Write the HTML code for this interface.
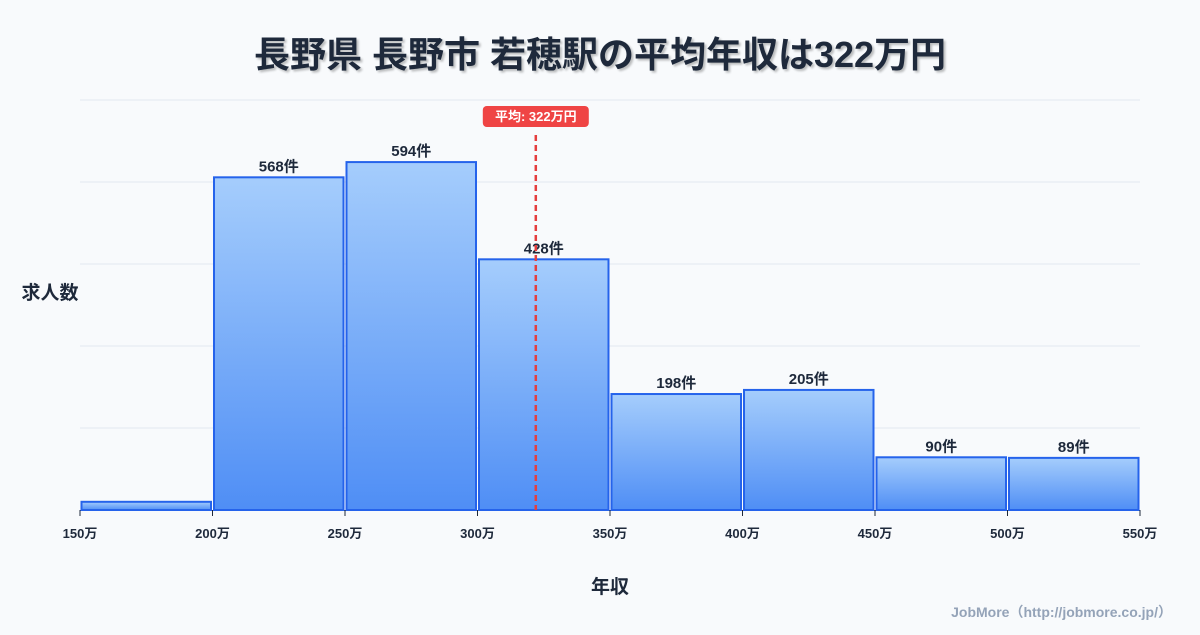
<!DOCTYPE html>
<html><head><meta charset="utf-8"><style>
body{margin:0;width:1200px;height:630px;background:#f8fafc;font-family:"Liberation Sans","Noto Sans CJK JP",sans-serif;overflow:hidden}
text{font-family:"Liberation Sans","Noto Sans CJK JP",sans-serif}
</style></head><body>
<svg id="chart" width="1200" height="630" xmlns="http://www.w3.org/2000/svg">
<defs><linearGradient id="g" x1="0" y1="0" x2="0" y2="1"><stop offset="0" stop-color="#a5cdfc"/><stop offset="1" stop-color="#4f8ef5"/></linearGradient></defs>
<text x="600" y="67" text-anchor="middle" font-size="36" font-weight="bold" fill="#1e293b" style="text-shadow:2px 2px 2px rgba(0,0,0,0.25)">長野県 長野市 若穂駅の平均年収は322万円</text>
<text x="50" y="299" text-anchor="middle" font-size="19" font-weight="bold" fill="#1e293b">求人数</text>
<text x="610" y="593" text-anchor="middle" font-size="19" font-weight="bold" fill="#1e293b">年収</text>
<text x="1172" y="617" text-anchor="end" font-size="14" font-weight="bold" fill="#94a3b8">JobMore（http://jobmore.co.jp/）</text>
<g id="grid"></g><g id="bars"></g><g id="xt"></g><g id="mean"></g>
</svg>
<script>
const binStarts=[150,200,250,300,350,400,450,500];
const counts=[14,568,594,428,198,205,90,89];
const showLabel=[false,true,true,true,true,true,true,true];
const xTicks=[150,200,250,300,350,400,450,500,550];
const meanValue=322;
const yMax=700, gridStep=140;
const X0=80,X1=1140,Y0=510,Y1=100;
const NS='http://www.w3.org/2000/svg';
const sx=v=>X0+(v-150)/(550-150)*(X1-X0);
const sy=v=>Y0-v/yMax*(Y0-Y1);
function mk(t,a,p){const e=document.createElementNS(NS,t);for(const k in a)e.setAttribute(k,a[k]);p.appendChild(e);return e;}
const grid=document.getElementById('grid');
for(let v=gridStep;v<=yMax;v+=gridStep){const l=mk('line',{x1:X0,x2:X1,y1:sy(v),y2:sy(v),stroke:'#e2e8f0','stroke-width':1},grid);

}
const bars=document.getElementById('bars');
binStarts.forEach((b,i)=>{const x=sx(b)+1.5,w=sx(b+50)-sx(b)-3,y=sy(counts[i]);
const r=mk('rect',{x:x,y:y,width:w,height:Y0-y,fill:'url(#g)',stroke:'#2563eb','stroke-width':2},bars);


if(showLabel[i]){const t=mk('text',{x:x+w/2,y:y-6,'text-anchor':'middle','font-size':15,'font-weight':'bold',fill:'#1e293b'},bars);t.textContent=counts[i]+'件';

}});
const xt=document.getElementById('xt');
xTicks.forEach(v=>{mk('line',{x1:sx(v),x2:sx(v),y1:Y0,y2:Y0+6,stroke:'#1e293b','stroke-width':1},xt);
const t=mk('text',{x:sx(v),y:Y0+28,'text-anchor':'middle','font-size':13,'font-weight':'bold',fill:'#1e293b'},xt);t.textContent=v+'万';

});
const m=document.getElementById('mean');const mx=sx(meanValue);
const ml=mk('line',{x1:mx,x2:mx,y1:135,y2:Y0,stroke:'#e53e3e','stroke-width':2.5,'stroke-dasharray':'6,4'},m);


const mb=mk('rect',{x:mx-53,y:106,width:106,height:21,rx:4,fill:'#ef4444'},m);


const mt=mk('text',{x:mx,y:121,'text-anchor':'middle','font-size':13,'font-weight':'bold',fill:'#fff'},m);mt.textContent='平均: '+meanValue+'万円';


</script>
</body></html>
